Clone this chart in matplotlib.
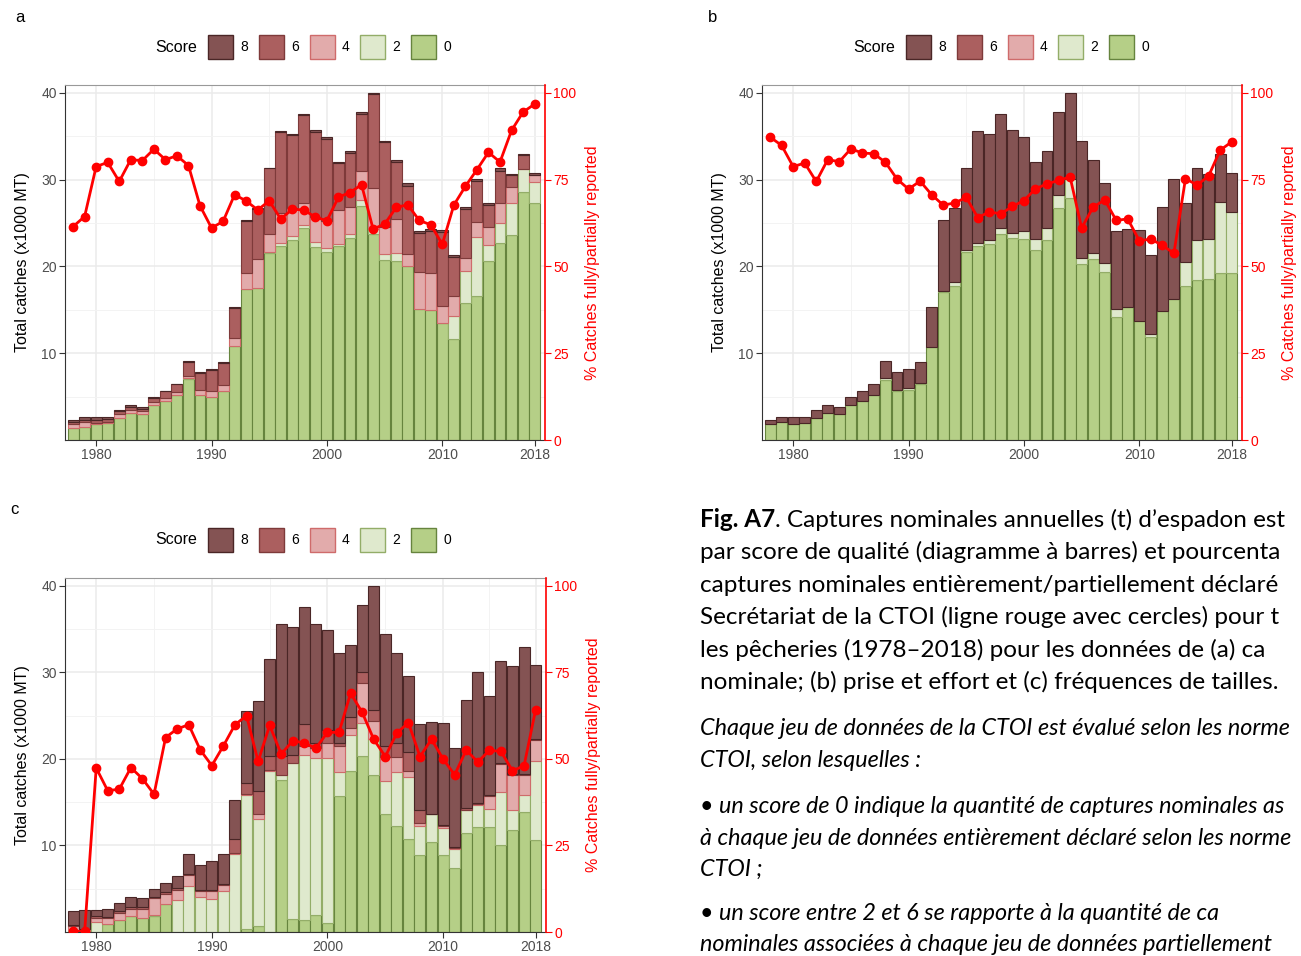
import matplotlib
matplotlib.use('Agg')
import matplotlib.pyplot as plt
from matplotlib.patches import Patch

years = list(range(1978, 2019))
score_keys = ['8', '6', '4', '2', '0']

# panel a : nominal catch
a_s0 = [1.35, 1.55, 1.9, 2.0, 2.5, 3.1, 3.0, 4.0, 4.5, 5.2, 7.0, 5.2, 5.0, 5.6, 10.8, 17.4, 17.5, 21.6, 22.4, 23.1, 24.4,
        22.3, 21.7, 22.4, 23.3, 27.0, 23.8, 20.8, 20.6, 20.0, 15.1, 15.0, 13.5, 11.6, 15.8, 16.6, 20.6, 22.7, 23.6, 28.6, 27.3]
a_s2 = [0, 0, 0, 0, 0, 0, 0, 0, 0, 0, 0.1, 0, 0, 0, 0, 0, 0, 0.1, 0.3, 0.4, 0.4,
        0.5, 0.4, 0.2, 0.4, 0.7, 0.5, 0.6, 0.9, 0, 0, 0, 0, 2.7, 3.7, 6.8, 1.9, 2.3, 3.7, 2.6, 2.4]
a_s4 = [0.55, 0.5, 0.1, 0.1, 0.45, 0.35, 0.3, 0.35, 0.3, 0.35, 0.3, 0.6, 0.6, 0.7, 0.9, 1.8, 3.4, 2.0, 3.5, 3.2, 2.5,
        2.9, 3.1, 3.9, 3.2, 3.3, 4.8, 3.1, 4.0, 1.4, 4.3, 4.3, 1.9, 2.3, 1.5, 1.7, 2.1, 2.3, 1.9, 0, 0.8]
a_s6 = [0.2, 0.3, 0.35, 0.35, 0.35, 0.35, 0.3, 0.45, 0.8, 0.9, 1.6, 1.9, 2.5, 2.6, 3.5, 6.1, 5.7, 7.6, 9.3, 8.5, 10.2,
        9.8, 9.5, 5.4, 6.2, 6.6, 10.8, 9.8, 6.6, 7.9, 4.5, 4.8, 8.6, 4.5, 5.6, 4.7, 2.5, 3.7, 1.3, 1.6, 0.1]
a_s8 = [0.2, 0.25, 0.25, 0.25, 0.2, 0.2, 0.2, 0.1, 0.1, 0.05, 0.1, 0.1, 0.1, 0.1, 0.1, 0.1, 0.1, 0.1, 0.1, 0.1, 0.1,
        0.2, 0.2, 0.2, 0.2, 0.2, 0.1, 0.2, 0.2, 0.3, 0.2, 0.2, 0.2, 0.2, 0.2, 0.3, 0.2, 0.3, 0.2, 0.2, 0.2]
a_pct = [61.5, 64.4, 78.8, 80.0, 74.5, 80.8, 80.5, 83.8, 80.8, 81.9, 79.1, 67.5, 61.1, 63.0, 70.7, 68.9, 66.3, 68.9, 63.7, 66.5, 66.3,
         64.2, 63.2, 70.0, 71.3, 73.6, 60.8, 62.2, 67.0, 67.8, 63.3, 62.0, 56.4, 67.7, 73.1, 77.9, 82.9, 80.1, 89.2, 94.5, 96.8]

# panel b : catch and effort
b_s0 = [1.9, 2.1, 1.9, 2.0, 2.5, 3.1, 3.0, 4.0, 4.5, 5.2, 6.9, 5.6, 5.8, 6.5, 10.7, 17.1, 17.7, 21.7, 22.4, 22.6, 23.8,
        23.3, 23.2, 21.9, 23.0, 26.7, 27.9, 20.3, 20.9, 19.4, 14.2, 15.3, 13.7, 11.9, 14.9, 16.2, 17.7, 18.5, 18.6, 19.2, 19.2]
b_s2 = [0, 0, 0, 0, 0, 0, 0, 0, 0, 0, 0.3, 0.2, 0.2, 0.1, 0, 0.1, 0.5, 0.2, 0.3, 0.4, 0.6,
        0.6, 0.9, 1.3, 1.4, 1.5, 2.2, 0.7, 0.7, 1.0, 0.9, 0, 0, 0.3, 0, 0, 2.8, 4.5, 4.6, 8.2, 7.1]
b_s8 = [0.4, 0.5, 0.7, 0.7, 1.0, 0.9, 0.8, 0.9, 1.2, 1.3, 1.9, 2.0, 2.2, 2.4, 4.6, 8.2, 8.5, 9.5, 12.9, 12.3, 13.2,
        11.8, 10.8, 8.9, 8.9, 9.6, 9.9, 13.5, 10.7, 9.2, 9.0, 9.0, 10.5, 9.1, 11.9, 13.9, 6.8, 8.3, 7.5, 5.6, 4.5]
b_pct = [87.3, 84.9, 78.8, 79.8, 74.5, 80.8, 80.2, 83.9, 82.7, 82.5, 80.0, 75.2, 72.3, 74.6, 70.7, 67.7, 68.3, 69.9, 64.1, 65.7, 65.2,
         67.3, 69.0, 72.4, 73.8, 74.8, 75.8, 61.1, 67.1, 69.2, 63.3, 63.7, 57.4, 57.9, 56.1, 53.8, 75.3, 73.5, 76.0, 83.5, 85.9]

# panel c : size frequency
c_s0 = [0, 0, 0, 0.9, 1.4, 1.8, 1.6, 1.9, 3.2, 0, 0, 0, 0, 0, 0, 0.3, 0.65, 0, 17.6, 1.5, 1.35,
        2.0, 1.0, 15.7, 18.6, 20.4, 18.2, 13.6, 12.2, 10.7, 8.9, 10.4, 8.9, 7.4, 11.4, 12.1, 12.1, 10.0, 11.8, 13.9, 10.6]
c_s2 = [0.2, 0, 1.2, 0, 0, 0, 0, 0.05, 0, 3.7, 5.35, 4.0, 3.85, 4.7, 9.0, 15.5, 12.4, 18.6, 0.6, 18.0, 19.1,
        18.1, 19.1, 2.8, 4.2, 3.8, 4.1, 3.8, 6.3, 7.2, 3.3, 3.2, 3.1, 2.2, 2.7, 2.6, 2.1, 6.2, 2.3, 1.9, 9.2]
c_s4 = [0.5, 0.3, 0.4, 0.7, 0.8, 0.9, 1.1, 2.0, 1.2, 1.2, 1.2, 0.7, 0.9, 0.7, 0.1, 0.1, 0.6, 0.1, 0, 0, 1.1,
        1.2, 1.7, 3.0, 0.8, 4.6, 2.1, 2.8, 1.7, 0.7, 0.4, 0, 0.3, 0.1, 0, 0.1, 1.5, 3.2, 4.1, 2.4, 2.4]
c_s6 = [0.15, 0.1, 0.2, 0.1, 0.2, 0.2, 0.2, 0.15, 0.2, 0.2, 0.2, 0.2, 0.1, 0.2, 1.6, 1.3, 2.6, 1.7, 2.2, 1.0, 2.5,
        0.6, 1.6, 0.3, 1.3, 1.2, 1.3, 1.3, 1.7, 2.2, 1.5, 0.05, 0.1, 0.1, 0.2, 0.1, 0.1, 0.1, 0.1, 0.1, 0.1]
c_s8 = [1.55, 2.2, 0.8, 1.0, 1.0, 1.1, 1.0, 0.9, 1.1, 1.4, 2.3, 2.9, 3.4, 3.4, 4.6, 8.3, 10.5, 11.1, 15.2, 14.8, 13.5,
        13.7, 11.5, 10.4, 8.3, 7.8, 14.3, 13.0, 10.4, 8.8, 10.0, 10.65, 11.8, 11.5, 12.5, 15.2, 11.5, 11.8, 12.5, 14.7, 8.6]
c_pct = [0.2, 0.2, 47.4, 40.8, 41.3, 47.5, 44.3, 39.8, 56.2, 58.7, 59.9, 52.6, 48.1, 53.8, 59.9, 62.5, 49.3, 59.7, 51.4, 55.3, 54.6,
         53.1, 57.7, 57.7, 69.0, 63.5, 55.7, 50.7, 57.5, 60.5, 50.7, 55.7, 50.0, 45.4, 52.6, 49.1, 52.5, 52.2, 46.6, 48.0, 64.2]

fill = {'0': '#b5cf87', '2': '#dfe9cd', '4': '#e2abab', '6': '#ab5f5f', '8': '#845353'}
edge = {'0': '#66843e', '2': '#93ad68', '4': '#cf6b6b', '6': '#7e3a3a', '8': '#4a2626'}

W, H = 1301, 956
fig = plt.figure(figsize=(W / 100, H / 100), dpi=100)
plt.rcParams['font.family'] = ['Liberation Sans', 'DejaVu Sans']

def px_axes(l, t, r, b):
    return fig.add_axes([l / W, 1 - b / H, (r - l) / W, (b - t) / H])

def panel(box, layers, pct, legend_x, legend_y):
    ax = px_axes(*box)
    bottom = [0] * len(years)
    for key, vals in layers:   # stack from score 0 upwards
        ax.bar(years, vals, width=0.95, bottom=bottom, color=fill[key],
               edgecolor=edge[key], linewidth=0.8, zorder=2)
        bottom = [b + v for b, v in zip(bottom, vals)]

    ax.set_xlim(1977.3, 2018.9)
    ax.set_ylim(0, 40.92)
    ax.set_xticks([1980, 1990, 2000, 2010, 2018])
    ax.set_xticks([1985, 1995, 2005, 2014], minor=True)
    ax.set_yticks([10, 20, 30, 40])
    ax.set_yticks([5, 15, 25, 35], minor=True)
    ax.set_axisbelow(True)
    ax.grid(which='major', color='#ebebeb', linewidth=1.1)
    ax.grid(which='minor', color='#f3f3f3', linewidth=0.7)
    ax.tick_params(which='minor', length=0)
    ax.tick_params(which='major', length=4, width=0.8, color='#333333',
                   labelcolor='#4d4d4d', labelsize=10, pad=2)
    for s in ['left', 'bottom']:
        ax.spines[s].set_color('#333333')
    ax.spines['top'].set_color('#999999')
    ax.spines['right'].set_visible(False)
    ax.set_ylabel('Total catches (x1000 MT)', fontsize=11.5, labelpad=8)

    ax2 = ax.twinx()
    ax2.plot(years, pct, color='#ff0000', linewidth=2, marker='o', markersize=6, zorder=5)
    ax2.set_ylim(0, 102.3)
    ax2.set_yticks([0, 25, 50, 75, 100])
    ax2.tick_params(axis='y', colors='#ff0000', labelsize=10, length=4, pad=2)
    for s in ['left', 'bottom', 'top']:
        ax2.spines[s].set_visible(False)
    ax2.spines['right'].set_color('#ff0000')
    ax2.spines['right'].set_linewidth(1.2)
    ax2.set_ylabel('% Catches fully/partially reported', color='#ff0000', fontsize=11.5, labelpad=6)

    handles = [Patch(facecolor=fill[k], edgecolor=edge[k], linewidth=1) for k in score_keys]
    ax.legend(handles, score_keys, ncol=5, loc='center left', frameon=False,
              bbox_to_anchor=(legend_x / W, 1 - legend_y / H), bbox_transform=fig.transFigure,
              borderpad=0, borderaxespad=0, handlelength=1.8, handleheight=2.3,
              handletextpad=0.5, columnspacing=0.8, fontsize=10)
    fig.text((legend_x - 53) / W, 1 - legend_y / H, 'Score', fontsize=11.5, va='center', ha='left')
    return ax

panel((65, 85, 545, 440),
      [('0', a_s0), ('2', a_s2), ('4', a_s4), ('6', a_s6), ('8', a_s8)], a_pct, 208, 47)
panel((762, 85, 1242, 440),
      [('0', b_s0), ('2', b_s2), ('8', b_s8)], b_pct, 906, 47)
panel((65, 578, 546, 932),
      [('0', c_s0), ('2', c_s2), ('4', c_s4), ('6', c_s6), ('8', c_s8)], c_pct, 208, 540)

fig.text(15 / W, 1 - 17 / H, 'a', fontsize=12, va='center')
fig.text(708 / W, 1 - 17 / H, 'b', fontsize=12, va='center')
fig.text(10 / W, 1 - 510 / H, 'c', fontsize=12, va='center')

# caption block on the right (cut by the page edge, as in the source)
tax = fig.add_axes([0, 0, 1, 1])
tax.set_xlim(0, W)
tax.set_ylim(H, 0)
tax.axis('off')

cap_font = ['Lato', 'DejaVu Sans']
cap_size = 17.5
ital_size = 16.8
bold = tax.text(700, 527, 'Fig. A7', fontsize=cap_size, family=cap_font, weight='bold', va='baseline')
tax.annotate(". Captures nominales annuelles (t) d\u2019espadon est", xy=(1, 0), xycoords=bold,
             va='bottom', fontsize=cap_size, family=cap_font, annotation_clip=False)

plain_lines = [
    (559, "par score de qualité (diagramme à barres) et pourcenta"),
    (592, "captures nominales entièrement/partiellement déclaré"),
    (624, "Secrétariat de la CTOI (ligne rouge avec cercles) pour t"),
    (657, "les pêcheries (1978\u20132018) pour les données de (a) ca"),
    (689, "nominale; (b) prise et effort et (c) fréquences de tailles."),
]
for y, s in plain_lines:
    tax.text(700, y, s, fontsize=cap_size, family=cap_font, va='baseline')

italic_lines = [
    (735, "Chaque jeu de données de la CTOI est évalué selon les norme"),
    (767, "CTOI, selon lesquelles :"),
    (813, "\u2022 un score de 0 indique la quantité de captures nominales as"),
    (845, "à chaque jeu de données entièrement déclaré selon les norme"),
    (876, "CTOI ;"),
    (920, "\u2022 un score entre 2 et 6 se rapporte à la quantité de ca"),
    (951, "nominales associées à chaque jeu de données partiellement"),
]
for y, s in italic_lines:
    tax.text(700, y, s, fontsize=ital_size, family=cap_font, style='italic', va='baseline')

fig.savefig('out.png', dpi=100)
